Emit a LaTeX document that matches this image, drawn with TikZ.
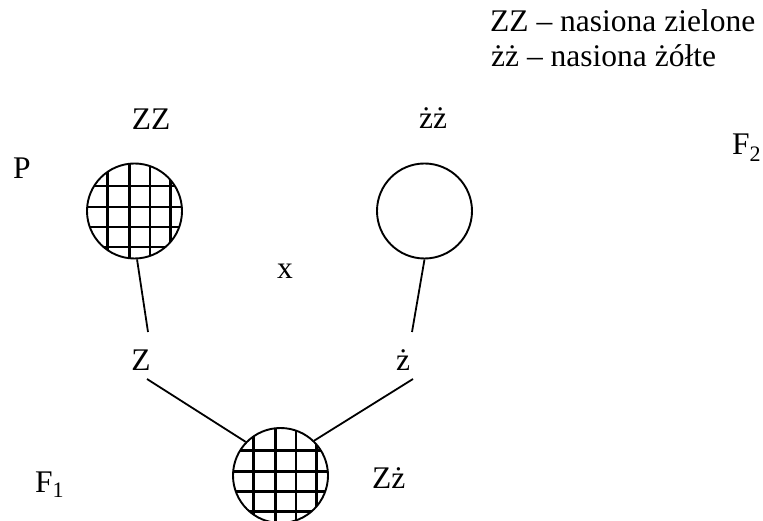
\documentclass[tikz,border=0pt]{standalone}
\usepackage{fontspec}
\setmainfont{Liberation Serif}
\usetikzlibrary{calc}
\tikzset{
  seed/.style={circle, draw, line width=1.9pt, minimum size=95pt, inner sep=0pt},
  checked/.style={path picture={
      \foreach \d in {-27,-5,15.5,36}{
        \draw[line width=2.8pt] ($(path picture bounding box.center)+(\d,-60)$) -- ++(0,120);
      }
      \foreach \d in {-25,-4,16,36}{
        \draw[line width=2.8pt] ($(path picture bounding box.center)+(-60,\d)$) -- ++(120,0);
      }
  }},
  lbl/.style={inner sep=0pt, anchor=base, font=\fontsize{31.5}{38}\selectfont},
  link/.style={line width=1.8pt}
}
\begin{document}
\begin{tikzpicture}[x=1pt, y=-1pt]
  \useasboundingbox (0,0) rectangle (763,521);

  % legend
  \node[lbl, anchor=base west] (leg1) at (490,32) {ZZ – nasiona zielone};
  \node[lbl, anchor=base west] (leg2) at (491,67) {żż – nasiona żółte};

  % generation labels
  \node[lbl, anchor=base west] (tP)  at (13,179)  {P};
  \node[lbl, anchor=base west] (tF1) at (35,492)  {F\textsubscript{1}};
  \node[lbl, anchor=base west] (tF2) at (732,155) {F\textsubscript{2}};

  % parents
  \node[lbl] (tZZ) at (151,130) {ZZ};
  \node[lbl] (tzz) at (433,129) {żż};
  \node[seed, checked] (pZZ) at (134.5,211) {};
  \node[seed] (pzz) at (424.5,211) {};
  \node[lbl] (tx) at (285,279) {x};

  % gametes
  \node[lbl] (lZ) at (141,370) {Z};
  \node[lbl] (lz) at (403,370) {ż};

  % offspring
  \node[seed, checked] (pZz) at (280.5,475.5) {};
  \node[lbl, anchor=base west] (tZz) at (372,488) {Zż};

  % connectors
  \draw[link] (pZZ.273) -- ($(lZ.base)+(7,-38)$);
  \draw[link] (pzz.270) -- ($(lz.base)+(9,-38)$);
  \draw[link] ($(lZ.base)+(6,9)$) -- (pZz.136);
  \draw[link] ($(lz.base)+(10,9)$) -- (pZz.46);
\end{tikzpicture}
\end{document}
